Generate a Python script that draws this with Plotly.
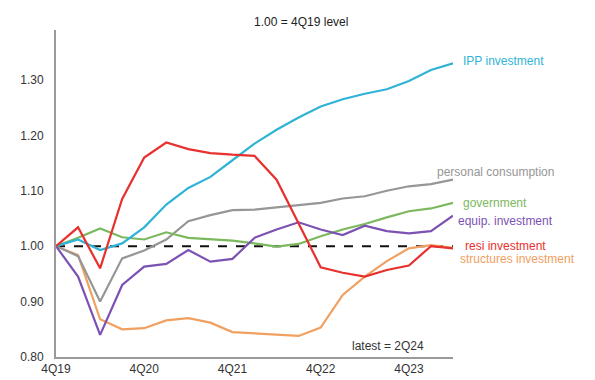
import plotly.graph_objects as go

quarters = ["4Q19", "1Q20", "2Q20", "3Q20", "4Q20", "1Q21", "2Q21", "3Q21", "4Q21",
            "1Q22", "2Q22", "3Q22", "4Q22", "1Q23", "2Q23", "3Q23", "4Q23", "1Q24", "2Q24"]

ipp_investment = [1.00, 1.012, 0.993, 1.005, 1.034, 1.075, 1.105, 1.125, 1.155, 1.185,
                  1.21, 1.232, 1.252, 1.265, 1.275, 1.283, 1.298, 1.318, 1.33]
personal_consumption = [1.00, 0.982, 0.90, 0.978, 0.992, 1.012, 1.045, 1.056, 1.065, 1.066,
                        1.07, 1.074, 1.078, 1.086, 1.09, 1.10, 1.108, 1.112, 1.12]
government = [1.00, 1.015, 1.032, 1.016, 1.012, 1.025, 1.015, 1.012, 1.01, 1.005,
              0.999, 1.004, 1.018, 1.03, 1.04, 1.052, 1.063, 1.068, 1.078]
equip_investment = [1.00, 0.945, 0.84, 0.93, 0.963, 0.968, 0.993, 0.972, 0.977, 1.015,
                    1.03, 1.043, 1.03, 1.02, 1.037, 1.027, 1.023, 1.027, 1.055]
resi_investment = [1.00, 1.034, 0.96, 1.085, 1.16, 1.187, 1.175, 1.168, 1.165, 1.163,
                   1.12, 1.04, 0.962, 0.952, 0.945, 0.957, 0.965, 1.0, 0.996]
structures_investment = [1.00, 0.984, 0.868, 0.85, 0.852, 0.866, 0.87, 0.862, 0.845, 0.843,
                         0.841, 0.838, 0.853, 0.912, 0.945, 0.973, 0.996, 1.002, 0.997]
baseline = [1.00] * len(quarters)

tick_labels = ["4Q19", "4Q20", "4Q21", "4Q22", "4Q23"]
y_ticks = [0.80, 0.90, 1.00, 1.10, 1.20, 1.30]

series = [
    ("structures investment", structures_investment, "#f0a060", 0.977, 5),
    ("personal consumption", personal_consumption, "#969696", 1.134, -18),
    ("government", government, "#7cb85e", 1.077, 8),
    ("equip. investment", equip_investment, "#7b52b3", 1.046, 3),
    ("IPP investment", ipp_investment, "#2fb3d6", 1.334, 8),
    ("resi investment", resi_investment, "#e8302e", 1.0, 10),
]

FONT = "Liberation Sans, Arial, sans-serif"
fig = go.Figure()

fig.add_trace(go.Scatter(x=quarters, y=baseline, mode="lines",
                         line=dict(color="#111111", width=2, dash="dash"),
                         hoverinfo="skip", showlegend=False))

for name, vals, color, ly, xs in series:
    fig.add_trace(go.Scatter(x=quarters, y=vals, mode="lines", name=name,
                             line=dict(color=color, width=2.2), showlegend=False))
    fig.add_annotation(x=quarters[-1], y=ly, xref="x", yref="y", text=name,
                       showarrow=False, xanchor="left", yanchor="middle",
                       xshift=xs, font=dict(color=color, size=12, family=FONT))

fig.add_annotation(x=0.617, xref="paper", y=1.0, yref="paper", yshift=8,
                   text="1.00 = 4Q19 level", showarrow=False, xanchor="center",
                   yanchor="middle",
                   font=dict(size=12, color="#222222", family=FONT))
fig.add_annotation(x=quarters[15], y=0.80, xref="x", yref="y", yshift=11, xshift=1,
                   text="latest = 2Q24", showarrow=False, xanchor="center",
                   font=dict(size=12, color="#333333", family=FONT))

fig.update_layout(
    width=595, height=380,
    margin=dict(l=48, r=150, t=22, b=28),
    paper_bgcolor="white", plot_bgcolor="white",
    font=dict(family=FONT, size=12, color="#333333"),
    showlegend=False,
)
fig.update_xaxes(type="category", range=[0, len(quarters) - 1],
                 tickmode="array", tickvals=tick_labels, ticktext=tick_labels,
                 showgrid=False, zeroline=False, showline=True, linecolor="#9a9a9a",
                 linewidth=2, ticks="", tickfont=dict(size=12, color="#333333"))
fig.update_yaxes(range=[0.80, 1.39], tickmode="array", tickvals=y_ticks,
                 ticktext=[f"{v:.2f}" for v in y_ticks],
                 showgrid=False, zeroline=False, showline=True, linecolor="#9a9a9a",
                 linewidth=2, ticks="", ticklabelstandoff=8,
                 tickfont=dict(size=12, color="#333333"))

fig.write_html("out.html")
